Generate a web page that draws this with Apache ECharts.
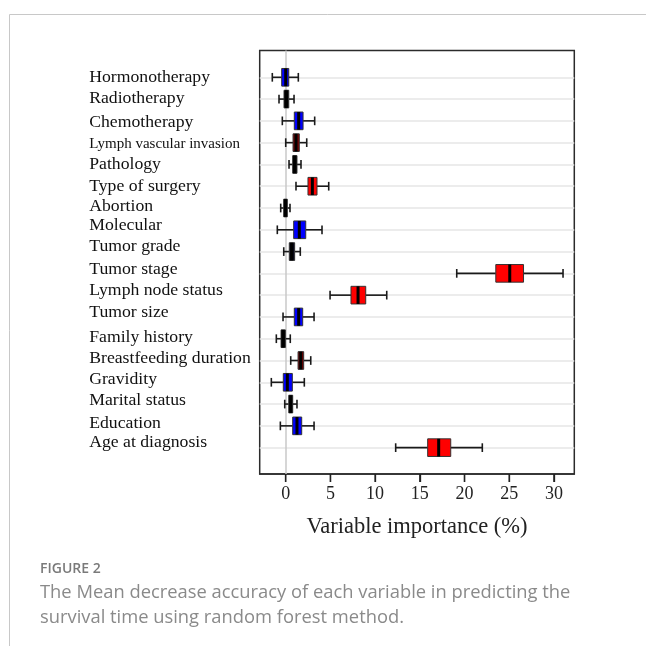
<!DOCTYPE html>
<html>
<head>
<meta charset="utf-8">
<script src="https://cdn.jsdelivr.net/npm/echarts@6/dist/echarts.min.js"></script>
<style>
  html, body { margin: 0; padding: 0; background: #fff; }
  #chart { width: 646px; height: 646px; }
</style>
</head>
<body>
<div id="chart"></div>
<script>
// ---------------- data ----------------
const categories = [
  'Hormonotherapy', 'Radiotherapy', 'Chemotherapy', 'Lymph vascular invasion',
  'Pathology', 'Type of surgery', 'Abortion', 'Molecular', 'Tumor grade',
  'Tumor stage', 'Lymph node status', 'Tumor size', 'Family history',
  'Breastfeeding duration', 'Gravidity', 'Marital status', 'Education',
  'Age at diagnosis'
];
const whiskerLow  = [-1.50, -0.75, -0.38, 0.00, 0.37, 1.15, -0.56, -0.94, -0.22, 19.13, 4.96, -0.30, -1.05, 0.56, -1.61, -0.11, -0.60, 12.30];
const quartile1   = [-0.45, -0.19,  0.96, 0.82, 0.78, 2.49, -0.22,  0.89,  0.40, 23.50, 7.30,  0.96, -0.52, 1.38, -0.27,  0.34,  0.78, 15.88];
const medians     = [ 0.00,  0.07,  1.45, 1.15, 1.00, 2.98, -0.04,  1.52,  0.67, 25.06, 8.09,  1.45, -0.30, 1.68,  0.18,  0.56,  1.26, 17.11];
const quartile3   = [ 0.34,  0.34,  1.94, 1.52, 1.26, 3.50,  0.18,  2.24,  1.00, 26.60, 8.95,  1.90, -0.04, 2.01,  0.74,  0.78,  1.79, 18.46];
const whiskerHigh = [ 1.41,  0.93,  3.24, 2.35, 1.71, 4.81,  0.48,  4.06,  1.63, 31.02, 11.30, 3.17,  0.51, 2.80,  2.08,  1.26,  3.17, 21.99];
const xTicks = [0, 5, 10, 15, 20, 25, 30];

// ---------------- styles / layout ----------------
const boxColor = ['#0000ff', '#000000', '#0000ff', '#7a0000', '#000000', '#ff0000',
  '#000000', '#0000ff', '#0a0a1e', '#ff0000', '#ff0000', '#0000ff', '#000000',
  '#7a0000', '#0000ff', '#000000', '#0000ff', '#ff0000'];
// vertical nudges of the row labels, in pixels (negative = up)
const labelNudgePx = [0, -0.7, 1.6, 1.5, 0, 0, -1.7, -4, -5.6, -4.3, -5, -5, -1.6, -1.7, -3.3, -3.3, -2.4, -5];
const ROW_PX = 21.79;
const X_MIN = -2.91, X_MAX = 32.28;
const Y_MIN = -1.23, Y_MAX = 18.21;
const TICK_LEN = 8;

const boxData = categories.map((c, i) => [i, whiskerLow[i], quartile1[i], medians[i], quartile3[i], whiskerHigh[i]]);
const labelPositions = categories.map((c, i) => i + labelNudgePx[i] / ROW_PX);
const tickData = xTicks.map(v => [v, Y_MAX]);

const chart = echarts.init(document.getElementById('chart'), null, { renderer: 'canvas' });

function whiskerStyle() { return { stroke: '#1a1a1a', lineWidth: 1.6, fill: null }; }

function renderBox(params, api) {
  const y = api.value(0);
  const lo = api.coord([api.value(1), y]);
  const q1 = api.coord([api.value(2), y]);
  const md = api.coord([api.value(3), y]);
  const q3 = api.coord([api.value(4), y]);
  const hi = api.coord([api.value(5), y]);
  const rowH = Math.abs(api.size([0, 1])[1]);
  const boxH = rowH * 0.81;
  const capH = rowH * 0.4;
  const cy = lo[1];
  return {
    type: 'group',
    children: [
      { type: 'line', shape: { x1: lo[0], y1: cy, x2: q1[0], y2: cy }, style: whiskerStyle() },
      { type: 'line', shape: { x1: q3[0], y1: cy, x2: hi[0], y2: cy }, style: whiskerStyle() },
      { type: 'line', shape: { x1: lo[0], y1: cy - capH / 2, x2: lo[0], y2: cy + capH / 2 }, style: whiskerStyle() },
      { type: 'line', shape: { x1: hi[0], y1: cy - capH / 2, x2: hi[0], y2: cy + capH / 2 }, style: whiskerStyle() },
      { type: 'rect', shape: { x: q1[0], y: cy - boxH / 2, width: q3[0] - q1[0], height: boxH },
        style: { fill: boxColor[params.dataIndex], stroke: '#333', lineWidth: 1 } },
      { type: 'line', shape: { x1: md[0], y1: cy - boxH / 2, x2: md[0], y2: cy + boxH / 2 },
        style: { stroke: '#000', lineWidth: 3, fill: null } }
    ]
  };
}

function renderTick(params, api) {
  const p = api.coord([api.value(0), api.value(1)]);
  return {
    type: 'rect',
    shape: { x: p[0] - 0.7, y: p[1], width: 1.4, height: TICK_LEN },
    style: { fill: '#222' }
  };
}

const gridLines = categories.map((c, i) => ({ yAxis: i, lineStyle: { color: '#e6e6e6', width: 1.5, type: 'solid' } }));
gridLines.push({ xAxis: 0, lineStyle: { color: '#c8c8c8', width: 1.5, type: 'solid' } });

const option = {
  animation: false,
  backgroundColor: '#ffffff',
  title: [
    {
      text: 'FIGURE 2',
      left: 40, top: 562, padding: 0,
      textStyle: { fontFamily: 'Open Sans', fontSize: 14, fontWeight: 600, color: '#7a7a7a' }
    },
    {
      text: 'The Mean decrease accuracy of each variable in predicting the\nsurvival time using random forest method.',
      left: 40, top: 580, padding: 0,
      textStyle: { fontFamily: 'Open Sans', fontSize: 18.35, fontWeight: 'normal', color: '#8a8a8a', lineHeight: 25 }
    }
  ],
  graphic: [
    { type: 'line', shape: { x1: 9.5, y1: 14.5, x2: 646, y2: 14.5 }, style: { stroke: '#c8c8c8', lineWidth: 1 }, silent: true },
    { type: 'line', shape: { x1: 9.5, y1: 14.5, x2: 9.5, y2: 646 }, style: { stroke: '#c8c8c8', lineWidth: 1 }, silent: true }
  ],
  grid: {
    left: 259.7, top: 50.5, right: 71.7, bottom: 172,
    show: true, borderColor: '#2b2b2b', borderWidth: 1.5
  },
  xAxis: {
    type: 'value',
    min: X_MIN, max: X_MAX,
    name: 'Variable importance (%)',
    nameLocation: 'middle',
    nameGap: 42,
    nameTextStyle: { fontFamily: 'Liberation Serif', fontSize: 22.5, color: '#222' },
    axisLine: { show: true, onZero: false, lineStyle: { color: '#2b2b2b', width: 1.5 } },
    axisTick: { show: true, customValues: xTicks, length: TICK_LEN, lineStyle: { color: '#222', width: 1.3 } },
    axisLabel: {
      customValues: xTicks,
      margin: 11,
      fontFamily: 'Liberation Serif', fontSize: 18, color: '#222'
    },
    splitLine: { show: false }
  },
  yAxis: {
    type: 'value',
    inverse: true,
    min: Y_MIN, max: Y_MAX,
    axisLine: { show: false },
    axisTick: { show: false },
    splitLine: { show: false },
    axisLabel: {
      customValues: labelPositions,
      align: 'left',
      margin: 170.5,
      fontFamily: 'Liberation Serif', fontSize: 17.7, color: '#111',
      formatter: function (v) {
        const name = categories[Math.round(v)];
        return name === 'Lymph vascular invasion' ? '{small|' + name + '}' : name;
      },
      rich: { small: { fontFamily: 'Liberation Serif', fontSize: 15, color: '#111' } }
    }
  },
  series: [
    {
      type: 'line',
      data: [],
      silent: true,
      z: 1,
      markLine: { silent: true, z: 1, symbol: ['none', 'none'], label: { show: false }, data: gridLines, animation: false }
    },
    {
      type: 'custom',
      z: 6,
      renderItem: renderBox,
      encode: { y: 0, x: [1, 2, 3, 4, 5] },
      data: boxData
    },
    {
      type: 'custom',
      zlevel: 1,
      z: 100,
      silent: true,
      clip: false,
      renderItem: renderTick,
      encode: { x: 0, y: 1 },
      data: tickData
    }
  ]
};
chart.setOption(option);
</script>
</body>
</html>
